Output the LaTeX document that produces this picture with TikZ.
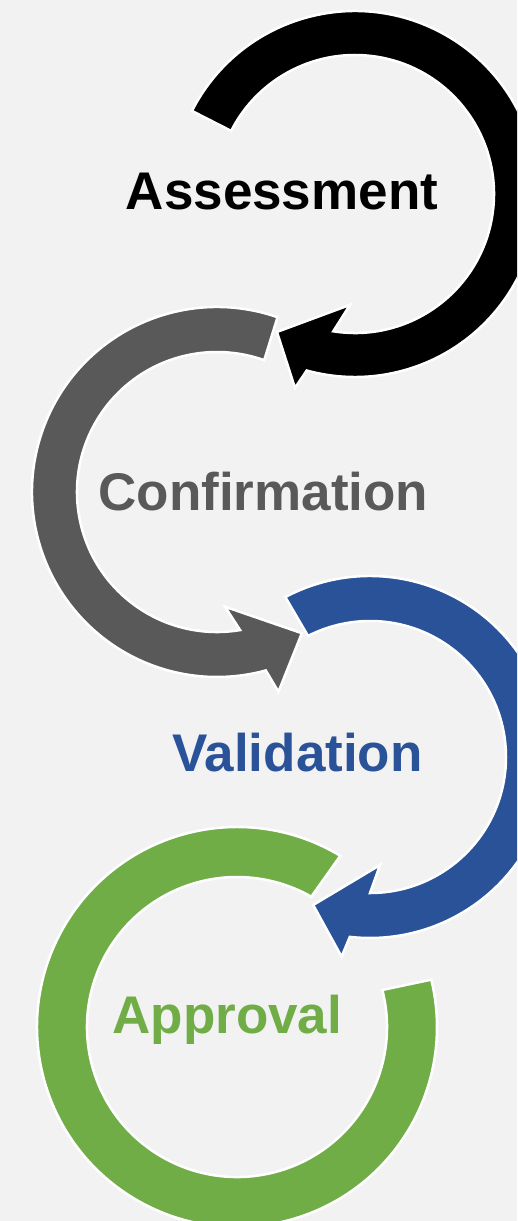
\documentclass[tikz,border=0pt]{standalone}
\usepackage{fontspec}
\setmainfont{Liberation Sans}
\definecolor{bgc}{HTML}{F2F2F2}
\definecolor{cgray}{HTML}{595959}
\definecolor{cblue}{HTML}{2A5298}
\definecolor{cgreen}{HTML}{70AD47}
\begin{document}
\begin{tikzpicture}[x=1pt,y=1pt,
  ring/.style={line width=2.5pt, draw=white, line join=miter},
  lbl/.style={font=\fontsize{53}{60}\selectfont\bfseries, anchor=base, inner sep=0pt}]
\fill[bgc] (0,0) rectangle (517,-1221);
\useasboundingbox (0,0) rectangle (517,-1221);
\begin{scope}
\clip (0,0) rectangle (517,-1221);
% green ring (Approval)
\begin{scope}[shift={(237,-1027)}]
\path[ring, fill=cgreen] (58.9:200) arc[start angle=58.9, end angle=373.7, radius=200]
  -- (374.3:150) arc[start angle=374.3, end angle=60.3, radius=150] -- cycle;
\end{scope}
% blue arrow (Validation)
\begin{scope}[shift={(370,-757)}]
\path[ring, fill=cblue] (117.9:181) arc[start angle=117.9, end angle=-96.4, radius=181]
  -- (-98.1:201.7) -- (-111:158.5) -- (-84.7:108.5) -- (-90:136)
  arc[start angle=-90, end angle=117.1, radius=136] -- cycle;
\end{scope}
% gray arrow (Confirmation)
\begin{scope}[shift={(217,-492)}]
\path[ring, fill=cgray] (70.9:185) arc[start angle=70.9, end angle=285.3, radius=185]
  -- (287.1:209) -- (301:164.7) -- (274:115) -- (279.5:140)
  arc[start angle=279.5, end angle=70.3, radius=140] -- cycle;
\end{scope}
% black arrow (Assessment)
\begin{scope}[shift={(355,-194)}]
\path[ring, fill=black] (153:183) arc[start angle=153, end angle=-105.3, radius=183]
  -- (-107.2:203) -- (-119.5:158.5) -- (-92.6:111) -- (-99:139)
  arc[start angle=-99, end angle=153, radius=139] -- cycle;
\end{scope}
\end{scope}
\node[lbl, text=black] (assess) at (282,-209) {Assessment};
\node[lbl, text=cgray] (confirm) at (263.3,-510) {Confirmation};
\node[lbl, text=cblue] (valid) at (297.5,-771.7) {Validation};
\node[lbl, text=cgreen] (approve) at (227.3,-1033.3) {Approval};
\end{tikzpicture}
\end{document}
